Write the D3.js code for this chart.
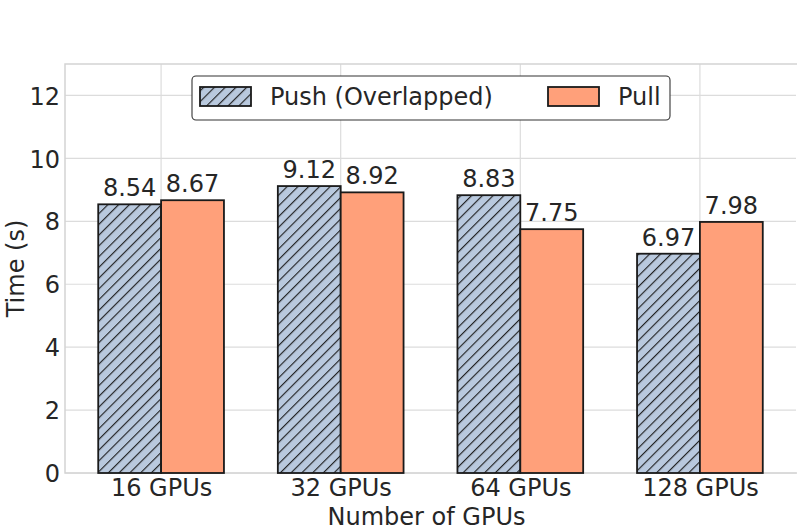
<!DOCTYPE html>
<html>
<head>
<meta charset="utf-8">
<script src="https://cdn.jsdelivr.net/npm/d3@7"></script>
<style>
  body { margin: 0; background: #fff; }
  svg text { font-family: "DejaVu Sans", sans-serif; fill: #262626; }
</style>
</head>
<body>
<svg id="chart" width="797" height="532"></svg>
<script>
// data
var categories = ["16 GPUs", "32 GPUs", "64 GPUs", "128 GPUs"];
var pushValues = [8.54, 9.12, 8.83, 6.97];
var pullValues = [8.67, 8.92, 7.75, 7.98];
var seriesNames = ["Push (Overlapped)", "Pull"];
var yTicks = [0, 2, 4, 6, 8, 10, 12];

var svg = d3.select("#chart");
// plot box (note: "top" is reserved on window, so use pl/pr/pt/pb)
var pl = 65, pr = 796, pt = 64, pb = 473;
var barW = 0.35;

var x = d3.scaleLinear().domain([-0.535, categories.length - 1 + 0.535]).range([pl, pr]);
var y = d3.scaleLinear().domain([0, 13]).range([pb, pt]);

// hatch for the push bars
var defs = svg.append("defs");
var pat = defs.append("pattern")
  .attr("id", "hatch")
  .attr("patternUnits", "userSpaceOnUse")
  .attr("width", 7.6).attr("height", 10)
  .attr("patternTransform", "rotate(45)");
pat.append("rect").attr("width", 7.6).attr("height", 10).attr("fill", "#b9c9de");
pat.append("line").attr("x1", 0.6).attr("y1", 0).attr("x2", 0.6).attr("y2", 10)
  .attr("stroke", "#1a1a1a").attr("stroke-width", 1.1);

// grid
var g = svg.append("g");
g.selectAll(".hgrid").data(yTicks).enter().append("line")
  .attr("x1", pl).attr("x2", pr)
  .attr("y1", function(d) { return y(d); }).attr("y2", function(d) { return y(d); })
  .attr("stroke", "#dcdcdc").attr("stroke-width", 1.2);
g.selectAll(".vgrid").data(categories).enter().append("line")
  .attr("x1", function(d, i) { return x(i); }).attr("x2", function(d, i) { return x(i); })
  .attr("y1", pt).attr("y2", pb)
  .attr("stroke", "#dcdcdc").attr("stroke-width", 1.2);

// frame
svg.append("rect").attr("x", pl).attr("y", pt)
  .attr("width", pr - pl + 5).attr("height", pb - pt)
  .attr("fill", "none").attr("stroke", "#d4d4d4").attr("stroke-width", 1.5);

// y ticks
var yAxis = d3.axisLeft(y).tickValues(yTicks).tickSize(0).tickPadding(5);
var ya = svg.append("g").attr("transform", "translate(" + pl + ",0)").call(yAxis);
ya.select(".domain").remove();
ya.selectAll("text").style("font-size", "24px").attr("fill", "#262626").attr("dy", "0.36em");

// x ticks
var xAxis = d3.axisBottom(x).tickValues(d3.range(categories.length))
  .tickFormat(function(i) { return categories[i]; }).tickSize(0).tickPadding(6);
var xa = svg.append("g").attr("transform", "translate(0," + pb + ")").call(xAxis);
xa.select(".domain").remove();
xa.selectAll("text").style("font-size", "24px").attr("fill", "#262626");

// bars
var series = [
  { name: seriesNames[0], values: pushValues, off: -barW / 2, fill: "url(#hatch)" },
  { name: seriesNames[1], values: pullValues, off: barW / 2, fill: "#ffa07a" }
];

series.forEach(function(s) {
  var bg = svg.append("g");
  bg.selectAll("rect").data(s.values).enter().append("rect")
    .attr("x", function(d, i) { return x(i + s.off - barW / 2); })
    .attr("width", function(d, i) { return x(i + s.off + barW / 2) - x(i + s.off - barW / 2); })
    .attr("y", function(d) { return y(d); })
    .attr("height", function(d) { return y(0) - y(d); })
    .attr("fill", s.fill)
    .attr("stroke", "#1a1a1a").attr("stroke-width", 1.8);
  bg.selectAll("text").data(s.values).enter().append("text")
    .attr("x", function(d, i) { return x(i + s.off); })
    .attr("y", function(d) { return y(d) - 8; })
    .attr("text-anchor", "middle")
    .style("font-size", "24px")
    .text(function(d) { return d.toFixed(2); });
});

// axis labels
svg.append("text").attr("x", (pl + pr) / 2 - 4).attr("y", 525)
  .attr("text-anchor", "middle").style("font-size", "24px").text("Number of GPUs");
svg.append("text").attr("transform", "translate(24," + ((pt + pb) / 2) + ") rotate(-90)")
  .attr("text-anchor", "middle").style("font-size", "24px").text("Time (s)");

// legend
var lg = svg.append("g");
lg.append("rect").attr("x", 192).attr("y", 76).attr("width", 478).attr("height", 44)
  .attr("rx", 4).attr("fill", "#fff").attr("stroke", "#333").attr("stroke-width", 1.1);
var legendX = [200, 548];
series.forEach(function(s, i) {
  lg.append("rect").attr("x", legendX[i]).attr("y", 87).attr("width", 51).attr("height", 19)
    .attr("fill", s.fill).attr("stroke", "#1a1a1a").attr("stroke-width", 1.8);
  lg.append("text").attr("x", legendX[i] + 70).attr("y", 105)
    .style("font-size", "24px").text(s.name);
});
</script>
</body>
</html>
